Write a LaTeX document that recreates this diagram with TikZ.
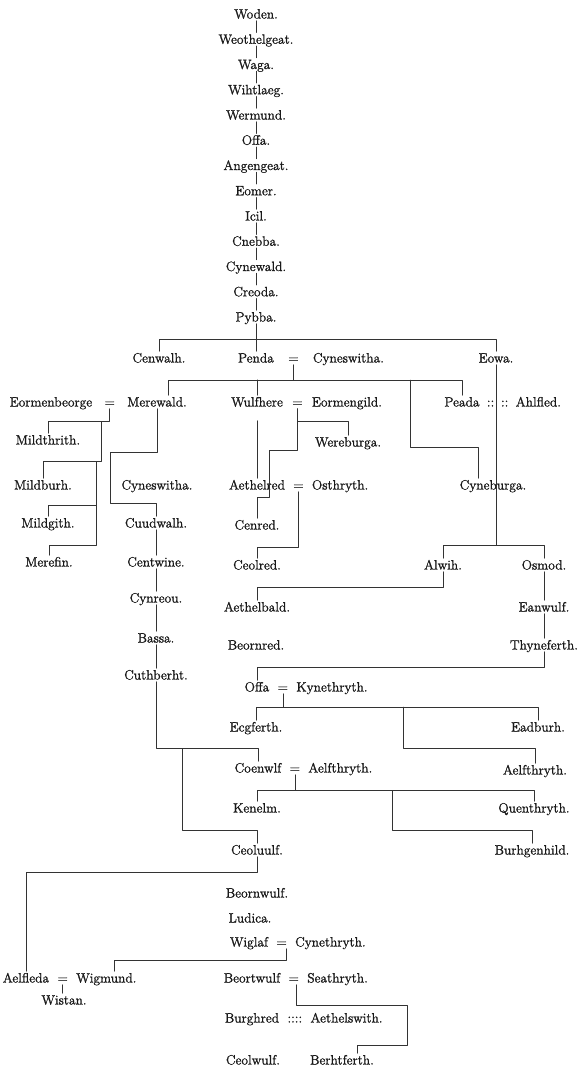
\documentclass[tikz,border=0pt]{standalone}
\usepackage{fontspec}
\setmainfont{Latin Modern Roman}[AutoFakeBold=1.3]
\usetikzlibrary{positioning}
\begin{document}
\begin{tikzpicture}[x=1pt,y=-1pt,line join=round,line cap=round,
	font=\bfseries\fontsize{13.5}{16}\selectfont,
	person/.style={inner sep=2pt,text height=9pt,text depth=0pt,text=black!90},
	kin/.style={draw=black!80,line width=0.5pt}]
	\useasboundingbox (0,0) rectangle (579,1072);
	% the old line down to Pybba
	\foreach \n/\t [count=\i from 0] in {woden/Woden., weothelgeat/Weothelgeat., waga/Waga., wihtlaeg/Wihtlaeg., wermund/Wermund., offaold/Offa., angengeat/Angengeat., eomer/Eomer., icil/Icil., cnebba/Cnebba., cynewald/Cynewald., creoda/Creoda., pybba/Pybba.}
		\node[person] (\n) at (256,{14+25.25*\i}) {\t};
	\foreach \a/\b in {woden/weothelgeat, weothelgeat/waga, waga/wihtlaeg, wihtlaeg/wermund, wermund/offaold, offaold/angengeat, angengeat/eomer, eomer/icil, icil/cnebba, cnebba/cynewald, cynewald/creoda, creoda/pybba}
		\draw[kin] (\a) -- (\b);
	% Pybba's sons
	\node[person] (cenwalh) at (159,358) {Cenwalh.};
	\node[person] (penda) at (256,358) {Penda};
	\node[person,right=10pt of penda] (pendaeq) {=};
	\node[person,right=10pt of pendaeq] (cyneswitha) {Cyneswitha.};
	\node[person] (eowa) at (496,358) {Eowa.};
	% Penda's children
	\node[person] (merewald) at (157,402) {Merewald.};
	\node[person,left=8pt of merewald] (merewaldeq) {=};
	\node[person,left=8pt of merewaldeq] (eormenbeorge) {Eormenbeorge};
	\node[person] (wulfhere) at (257,402) {Wulfhere};
	\node[person,right=5pt of wulfhere] (wulfhereeq) {=};
	\node[person,right=5pt of wulfhereeq] (eormengild) {Eormengild.};
	\node[person] (peada) at (462,402) {Peada};
	\node[person,right=3pt of peada] (peadadots) {::\,\,\,::};
	\node[person,right=3pt of peadadots] (ahlfled) {Ahlfled.};
	\node[person] (mildthrith) at (48,440) {Mildthrith.};
	\node[person] (wereburga) at (348,442) {Wereburga.};
	\node[person] (mildburh) at (43,485) {Mildburh.};
	\node[person] (cyneswithab) at (157,485) {Cyneswitha.};
	\node[person] (aethelred) at (257,485) {Aethelred};
	\node[person,right=4pt of aethelred] (aethelredeq) {=};
	\node[person,right=4pt of aethelredeq] (osthryth) {Osthryth.};
	\node[person] (cyneburga) at (493,485) {Cyneburga.};
	\node[person] (mildgith) at (48,523) {Mildgith.};
	\node[person] (cuudwalh) at (156,523) {Cuudwalh.};
	\node[person] (cenred) at (257,525) {Cenred.};
	\node[person] (merefin) at (49,562) {Merefin.};
	\node[person] (centwine) at (156,562) {Centwine.};
	\node[person] (ceolred) at (257,565) {Ceolred.};
	\node[person] (alwih) at (443,565) {Alwih.};
	\node[person] (osmod) at (544,565) {Osmod.};
	\node[person] (cynreou) at (156,598) {Cynreou.};
	\node[person] (aethelbald) at (257,607) {Aethelbald.};
	\node[person] (eanwulf) at (544,607) {Eanwulf.};
	\node[person] (bassa) at (156,638) {Bassa.};
	\node[person] (beornred) at (256,645) {Beornred.};
	\node[person] (thyneferth) at (544,645) {Thyneferth.};
	\node[person] (cuthberht) at (156,675) {Cuthberht.};
	\node[person] (offa) at (257,687) {Offa};
	\node[person,right=4pt of offa] (offaeq) {=};
	\node[person,right=4pt of offaeq] (kynethryth) {Kynethryth.};
	\node[person] (ecgferth) at (256,727) {Ecgferth.};
	\node[person] (eadburh) at (538,727) {Eadburh.};
	\node[person] (coenwlf) at (258,768) {Coenwlf};
	\node[person,right=4pt of coenwlf] (coenwlfeq) {=};
	\node[person,right=4pt of coenwlfeq] (aelfthryth) {Aelfthryth.};
	\node[person] (aelfthrythb) at (535,770) {Aelfthryth.};
	\node[person] (kenelm) at (257,808) {Kenelm.};
	\node[person] (quenthryth) at (534,808) {Quenthryth.};
	\node[person] (ceoluulf) at (257,850) {Ceoluulf.};
	\node[person] (burhgenhild) at (532,850) {Burhgenhild.};
	\node[person] (beornwulf) at (257,893) {Beornwulf.};
	\node[person] (ludica) at (250,918) {Ludica.};
	\node[person] (wiglaf) at (249,942) {Wiglaf};
	\node[person,right=4pt of wiglaf] (wiglafeq) {=};
	\node[person,right=4pt of wiglafeq] (cynethryth) {Cynethryth.};
	\node[person] (aelfleda) at (26,978) {Aelfleda};
	\node[person,right=4pt of aelfleda] (aelfledaeq) {=};
	\node[person,right=4pt of aelfledaeq] (wigmund) {Wigmund.};
	\node[person] (wistan) at (64,1000) {Wistan.};
	\node[person] (beortwulf) at (252,978) {Beortwulf};
	\node[person,right=4pt of beortwulf] (beortwulfeq) {=};
	\node[person,right=4pt of beortwulfeq] (seathryth) {Seathryth.};
	\node[person] (burghred) at (252,1018) {Burghred};
	\node[person,right=4pt of burghred] (burghreddots) {::::};
	\node[person,right=4pt of burghreddots] (aethelswith) {Aethelswith.};
	\node[person] (ceolwulf) at (253,1060) {Ceolwulf.};
	\node[person] (berhtferth) at (342,1060) {Berhtferth.};
	% lines of descent
	\draw[kin] (pybba) -- (penda);
	\draw[kin] (cenwalh.north) -- ++(0,-12) -| (eowa.north);
	\draw[kin] (pendaeq.south) -- ++(0,15.5);
	\draw[kin] ([xshift=11pt]merewald.north) -- ++(0,-15.5) -| (peada.north);
	\draw[kin] (wulfhere.north) -- ++(0,-15.5);
	\coordinate (cynefork) at (410,380);
	\draw[kin] (cynefork) -- ++(0,67) -| ([xshift=-15pt]cyneburga.north);
	\draw[kin] (eowa.south) -- ++(0,180.5);
	\draw[kin] (alwih.north) -- ++(0,-13) -| (osmod.north);
	\draw[kin] (merewaldeq.south) -- ++(0,13) -| (mildthrith.north);
	\coordinate (mfork1) at (101,421.5);
	\draw[kin] (mfork1) -- ++(0,40) -| (mildburh.north);
	\coordinate (mfork2) at (96,461.5);
	\draw[kin] (mfork2) -- ++(0,44) -| (mildgith.north);
	\draw[kin] (mfork2) -- ++(0,84) -| (merefin.north);
	\draw[kin] (merewald.south) -- ++(0,43.5) -- ++(-47,0) -- ++(0,51.5) -| (cuudwalh.north);
	\draw[kin] (cuudwalh) -- (centwine);
	\draw[kin] (centwine) -- (cynreou);
	\draw[kin] (cynreou) -- (bassa);
	\draw[kin] (bassa) -- (cuthberht);
	\draw[kin] (cuthberht.south) -- ++(0,67) -| (coenwlf.north);
	\coordinate (cfork) at (182,748.5);
	\draw[kin] (cfork) -- ++(0,81.5) -| (ceoluulf.north);
	\draw[kin] ([yshift=-12pt]wulfhere.south) -- (aethelred);
	\draw[kin] (wulfhereeq.south) -- ++(0,13) -| (wereburga.north);
	\draw[kin] (wulfhereeq.south) -- ++(0,41.5) -- ++(-28,0) -- ++(0,47) -| (cenred.north);
	\draw[kin] (aethelredeq.south) -- ++(0,56) -| (ceolred.north);
	\draw[kin] (alwih.south) -- ++(0,15.5) -| (aethelbald.north);
	\draw[kin] (osmod) -- (eanwulf);
	\draw[kin] (eanwulf) -- (thyneferth);
	\draw[kin] (thyneferth.south) -- ++(0,16) -| (offa.north);
	\draw[kin] (offaeq.south) -- ++(0,13.5);
	\draw[kin] (ecgferth.north) -- ++(0,-13.5) -| (eadburh.north);
	\coordinate (ofork) at (403,707);
	\draw[kin] (ofork) -- ++(0,41) -| (aelfthrythb.north);
	\draw[kin] (coenwlfeq.south) -- ++(0,16);
	\draw[kin] (kenelm.north) -- ++(0,-11) -| (quenthryth.north);
	\coordinate (kfork) at (392,790.5);
	\draw[kin] (kfork) -- ++(0,40) -| (burhgenhild.north);
	\draw[kin] (ceoluulf.south) -- ++(0,15.5) -| (aelfleda.north);
	\draw[kin] ([xshift=5pt]wiglafeq.south) -- ++(0,12) -| ([xshift=8pt]wigmund.north);
	\draw[kin] (aelfledaeq.south) -- (aelfledaeq.south |- wistan.north);
	\draw[kin] ([xshift=3pt]beortwulfeq.south) -- ++(0,20.5) -- ++(111,0) -- ++(0,40) -| ([xshift=15pt]berhtferth.north);
\end{tikzpicture}
\end{document}
